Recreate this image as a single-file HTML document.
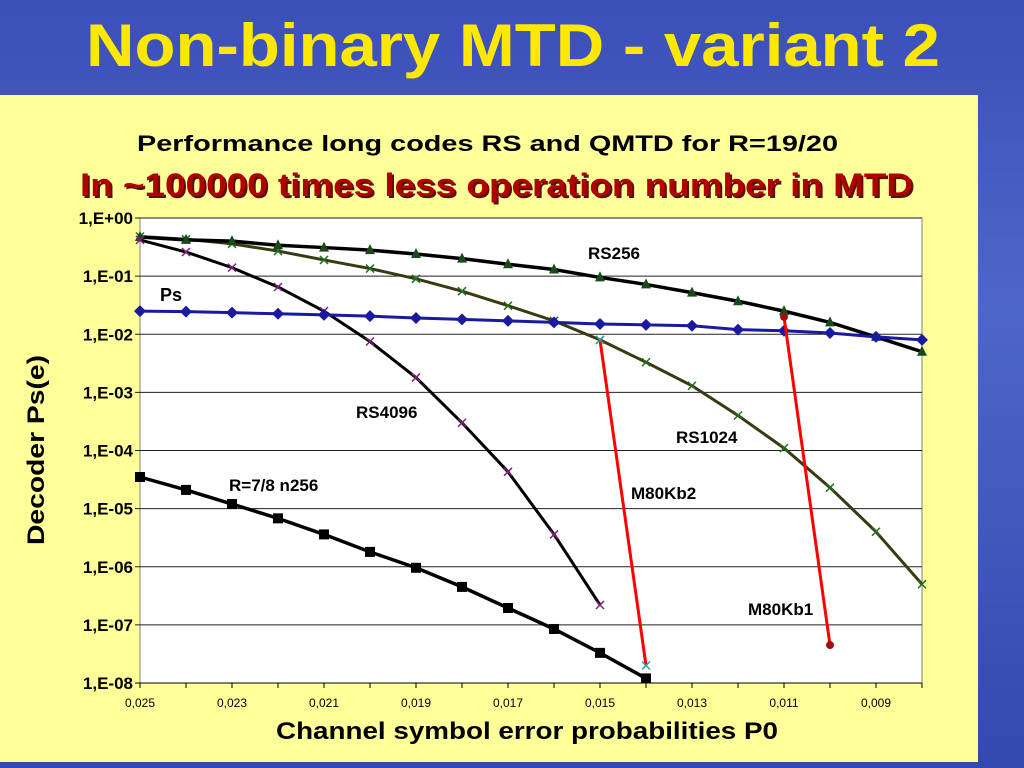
<!DOCTYPE html>
<html><head><meta charset="utf-8"><style>
body{margin:0;width:1024px;height:768px;overflow:hidden;font-family:"Liberation Sans",sans-serif;
background:linear-gradient(180deg,#3a4fb8 0%,#4d66c8 40%,#3348b0 100%);position:relative}
#panel{position:absolute;left:0;top:95px;width:978px;height:667px;background:#ffff99}
</style></head><body>
<div id="panel"></div>
<svg id="chart" width="1024" height="768" style="position:absolute;left:0;top:0">
<text x="86" y="66" font-size="60" font-weight="bold" fill="#ffe800" textLength="854" lengthAdjust="spacingAndGlyphs">Non-binary MTD - variant 2</text>
<text x="137" y="151" font-size="22" font-weight="bold" textLength="701" lengthAdjust="spacingAndGlyphs">Performance long codes RS and QMTD  for  R=19/20</text>
<text x="82" y="198" font-size="32" font-weight="bold" fill="#5a1010" textLength="833" lengthAdjust="spacingAndGlyphs">In ~100000 times less operation number in MTD</text>
<text x="80" y="196" font-size="32" font-weight="bold" fill="#b00000" textLength="833" lengthAdjust="spacingAndGlyphs">In ~100000 times less operation number in MTD</text>
<text x="44" y="450" text-anchor="middle" font-size="24" font-weight="bold" transform="rotate(-90 44 450)" textLength="190" lengthAdjust="spacingAndGlyphs">Decoder Ps(e)</text>
<text x="276" y="739" font-size="24" font-weight="bold" textLength="502" lengthAdjust="spacingAndGlyphs">Channel symbol error probabilities P0</text>
<g id="plot"></g>
</svg>
<script>
const xs = [0.025,0.024,0.023,0.022,0.021,0.020,0.019,0.018,0.017,0.016,0.015,0.014,0.013,0.012,0.011,0.010,0.009,0.008];
const xTickLabels = ['0,025','0,023','0,021','0,019','0,017','0,015','0,013','0,011','0,009'];
const xTickValues = [0.025,0.023,0.021,0.019,0.017,0.015,0.013,0.011,0.009];
const yTickLabels = ['1,E+00','1,E-01','1,E-02','1,E-03','1,E-04','1,E-05','1,E-06','1,E-07','1,E-08'];
const psVals = [2.5e-2,2.45e-2,2.35e-2,2.25e-2,2.15e-2,2.05e-2,1.9e-2,1.8e-2,1.7e-2,1.6e-2,1.5e-2,1.45e-2,1.4e-2,1.2e-2,1.15e-2,1.05e-2,9e-3,8e-3];
const rs256Vals = [0.47,0.42,0.40,0.34,0.31,0.28,0.24,0.20,0.16,0.13,0.095,0.072,0.052,0.037,0.025,0.016,0.009,0.005];
const rs1024Vals = [0.48,0.43,0.36,0.27,0.19,0.135,0.09,0.055,0.031,0.017,0.008,0.0033,1.3e-3,4e-4,1.1e-4,2.3e-5,4e-6,5e-7];
const rs4096Vals = [0.42,0.26,0.14,0.065,0.025,7.5e-3,1.8e-3,3e-4,4.3e-5,3.6e-6,2.2e-7];
const r78Vals = [3.5e-5,2.1e-5,1.2e-5,6.8e-6,3.6e-6,1.8e-6,9.6e-7,4.5e-7,1.95e-7,8.5e-8,3.3e-8,1.2e-8];
const m2X = [0.015,0.014], m2Vals = [8e-3,2e-8];
const m1X = [0.011,0.010], m1Vals = [2e-2,4.5e-8];

const L=140,R=922,T=218,B=683;
const X=v=>L+(0.025-v)/(0.025-0.008)*(R-L);
const Y=v=>T+(-Math.log10(v))/8*(B-T);
const ns='http://www.w3.org/2000/svg';
const g=document.getElementById('plot');
function el(t,a,p){const e=document.createElementNS(ns,t);for(const k in a)e.setAttribute(k,a[k]);(p||g).appendChild(e);return e;}
let e=el('rect',{x:L,y:T,width:R-L,height:B-T,fill:'#fff',stroke:'#808080'});


yTickLabels.forEach((t,i)=>{const y=T+i*(B-T)/8;
 const ln=el('line',{x1:L-5,x2:R,y1:y,y2:y,stroke:i==8?'#000':'#222','stroke-width':1});
 
 
 const tx=el('text',{x:L-7,y:y+6,'text-anchor':'end','font-size':17,'font-weight':'bold'});tx.textContent=t;
 
 });
xs.forEach(v=>{const ln=el('line',{x1:X(v),x2:X(v),y1:B,y2:B+5,stroke:'#000'});
 
 });
xTickValues.forEach((v,i)=>{const tx=el('text',{x:X(v),y:B+24,'text-anchor':'middle','font-size':12});tx.textContent=xTickLabels[i];
 
 });
function series(name,xv,yv,color,w,marker,mc){
 const pts=yv.map((v,i)=>X(xv[i])+','+Y(v)).join(' ');
 const pl=el('polyline',{points:pts,fill:'none',stroke:color,'stroke-width':w});
 
 
 yv.forEach((v,i)=>{const x=X(xv[i]),y=Y(v);let m;
  if(marker=='d')m=el('polygon',{points:`${x},${y-6} ${x+6},${y} ${x},${y+6} ${x-6},${y}`,fill:mc});
  else if(marker=='t')m=el('polygon',{points:`${x},${y-6} ${x+5},${y+4} ${x-5},${y+4}`,fill:mc});
  else if(marker=='s')m=el('rect',{x:x-5,y:y-5,width:10,height:10,fill:mc});
  else if(marker=='c')m=el('circle',{cx:x,cy:y,r:4,fill:mc});
  else if(marker=='x')m=el('path',{d:`M${x-4},${y-4}L${x+4},${y+4}M${x+4},${y-4}L${x-4},${y+4}`,stroke:mc,'stroke-width':1.5});
  
  });
}
series('rs1024',xs,rs1024Vals,'#3a3a10',3,'x','#207020');
series('rs256',xs,rs256Vals,'#000',3.5,'t','#1a4a1a');
series('rs4096',xs.slice(0,rs4096Vals.length),rs4096Vals,'#000',3,'x','#802080');
series('ps',xs,psVals,'#1a1aa0',3,'d','#1a1aa0');
series('r78-n256',xs.slice(0,r78Vals.length),r78Vals,'#000',3.5,'s','#000');
series('m80kb2',m2X,m2Vals,'#ff0000',3,'x','#30a0a0');
series('m80kb1',m1X,m1Vals,'#ff0000',3,'c','#a01010');
[['RS256',588,259],['Ps',160,301],['RS4096',356,418],['RS1024',676,443],['R=7/8  n256',229,491],['M80Kb2',631,499],['M80Kb1',748,615]].forEach(a=>{
 const tx=el('text',{x:a[1],y:a[2],'font-size':a[0]=='Ps'?18:17,'font-weight':'bold'});tx.textContent=a[0];
 
 });
</script>
</body></html>
